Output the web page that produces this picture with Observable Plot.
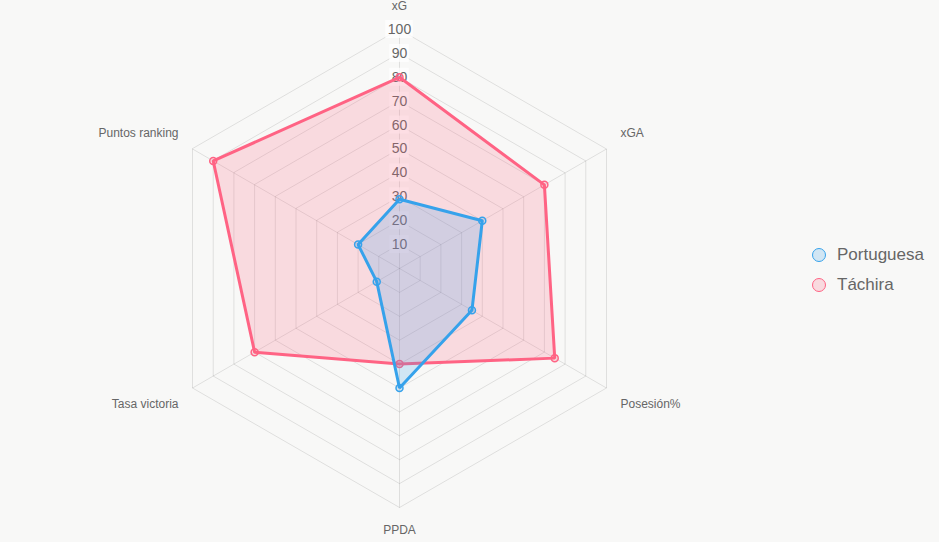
<!DOCTYPE html>
<html><head><meta charset="utf-8">
<script src="https://cdn.jsdelivr.net/npm/d3@7"></script>
<script src="https://cdn.jsdelivr.net/npm/@observablehq/plot@0.6"></script>
<style>
html,body{margin:0;padding:0;background:#f8f8f7;}
#wrap{position:relative;width:939px;height:542px;overflow:hidden;}
.legend{position:absolute;left:812px;top:240px;font:17px "Liberation Sans",Arial,Helvetica,sans-serif;color:#666;}
.item{display:flex;align-items:center;height:30px;white-space:nowrap;}
.sw{width:14px;height:14px;border-radius:50%;box-sizing:border-box;border:1.5px solid;margin-right:11px;}
</style></head><body>
<div id="wrap"></div>
<script>
// ---- data ----
const axes = ["xG", "xGA", "Posesión%", "PPDA", "Tasa victoria", "Puntos ranking"];
const seriesNames = ["Portuguesa", "Táchira"];
const portuguesa = [29, 40, 35, 50, 11, 20];
const tachira = [80, 70, 75, 40, 70, 90];
const ticks = [10, 20, 30, 40, 50, 60, 70, 80, 90, 100];

// ---- styles ----
const lineColors = ["rgb(54,162,235)", "rgb(255,99,132)"];
const fillColors = ["rgba(54,162,235,0.2)", "rgba(255,99,132,0.2)"];
const W = 939, H = 542, cx = 399, cy = 268, k = 2.39;
const font = '"Liberation Sans", Arial, Helvetica, sans-serif';

const ang = i => i * Math.PI / 3;
const px = (i, r) => r * Math.sin(ang(i));
const py = (i, r) => r * Math.cos(ang(i));
const poly = vals => vals.map((v, i) => ({axis: axes[i], x: px(i, v), y: py(i, v)}));
const rMax = d3.max(ticks);
const rings = ticks.flatMap(t => axes.map((a, i) => ({t, x: px(i, t), y: py(i, t)})));
const spokes = axes.map((a, i) => ({x1: 0, y1: 0, x2: px(i, rMax), y2: py(i, rMax)}));
const sgn = v => Math.abs(v) < 1e-6 ? 0 : Math.sign(v);
const labels = axes.map((a, i) => {
  const s = sgn(Math.sin(ang(i))), c = sgn(Math.cos(ang(i)));
  const ox = 14 * s, oy = (s === 0 ? 23 : 16) * c;
  return {label: a, x: px(i, rMax) + ox / k, y: py(i, rMax) + oy / k,
          anchor: s > 0 ? "start" : s < 0 ? "end" : "middle"};
});
const tickW = t => (String(t).length * 7.8 + 4) / 2 / k;

const series = [
  {name: seriesNames[1], vals: tachira, line: lineColors[1], fill: fillColors[1]},
  {name: seriesNames[0], vals: portuguesa, line: lineColors[0], fill: fillColors[0]}
];

const marks = [
  Plot.line(rings, {x: "x", y: "y", z: "t", curve: "linear-closed", stroke: "rgba(0,0,0,0.1)", strokeWidth: 1}),
  Plot.link(spokes, {x1: "x1", y1: "y1", x2: "x2", y2: "y2", stroke: "rgba(0,0,0,0.1)", strokeWidth: 1}),
  Plot.rect(ticks, {x1: d => -tickW(d), x2: d => tickW(d), y1: d => d - 9 / k, y2: d => d + 9 / k, fill: "rgba(255,255,255,0.75)"}),
  Plot.text(ticks, {x: 0, y: d => d, text: d => String(d), fill: "#666", fontSize: 14, textAnchor: "middle"}),
  ...labels.map(l => Plot.text([l], {x: "x", y: "y", text: "label", fill: "#666", fontSize: 12, textAnchor: l.anchor})),
];
for (const s of series) {
  const p = poly(s.vals);
  marks.push(Plot.line(p, {x: "x", y: "y", curve: "linear-closed", fill: s.fill, stroke: s.line, strokeWidth: 3, strokeLinejoin: "miter"}));
  marks.push(Plot.dot(p, {x: "x", y: "y", r: 3.5, fill: s.fill, stroke: s.line, strokeWidth: 1.5}));
}

const chart = Plot.plot({
  width: W, height: H,
  margin: 0,
  x: {domain: [-cx / k, (W - cx) / k], range: [0, W], axis: null},
  y: {domain: [-(H - cy) / k, cy / k], range: [H, 0], axis: null},
  style: {background: "transparent", fontFamily: font, overflow: "visible"},
  marks
});
const wrap = document.getElementById("wrap");
wrap.appendChild(chart);

const legend = document.createElement("div");
legend.className = "legend";
seriesNames.forEach((n, i) => {
  const it = document.createElement("div");
  it.className = "item";
  const sw = document.createElement("span");
  sw.className = "sw";
  sw.style.borderColor = lineColors[i];
  sw.style.background = fillColors[i];
  const tx = document.createElement("span");
  tx.textContent = n;
  it.appendChild(sw); it.appendChild(tx);
  legend.appendChild(it);
});
wrap.appendChild(legend);
</script>
</body></html>
